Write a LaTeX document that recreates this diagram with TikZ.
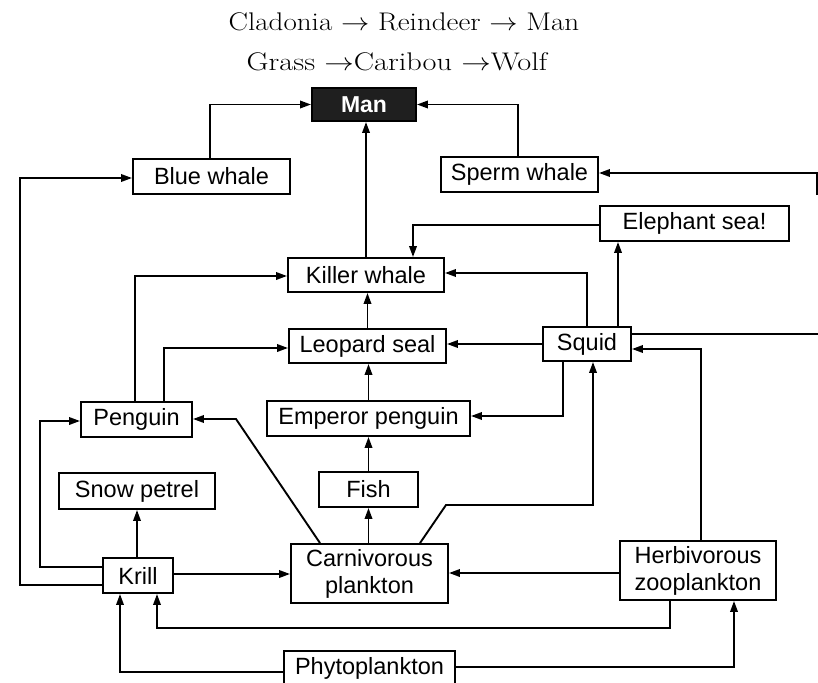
\documentclass[tikz,border=0pt]{standalone}
\usepackage{fontspec}
\newfontfamily\labfont{Liberation Sans}
\usetikzlibrary{arrows.meta,calc}
\tikzset{
  animbox/.style={draw, line width=1.9bp, inner sep=0pt, align=center,
    font=\labfont\fontsize{23.5bp}{27bp}\selectfont},
  arr/.style={line width=1.9bp, -{Triangle[length=11bp,width=7.5bp]}},
  plain/.style={line width=1.9bp},
  titletext/.style={inner sep=0pt, font=\fontsize{25.5bp}{30bp}\selectfont}
}
\begin{document}
\begin{tikzpicture}[x=1bp,y=-1bp]
\useasboundingbox[fill=white] (0,0) rectangle (818,683);

% titles
\node[titletext] (t1) at (404,22) {\scalebox{1.14}[1]{Cladonia $\rightarrow$ Reindeer $\rightarrow$ Man}};
\node[titletext] (t2) at (397,62) {\scalebox{1.19}[1]{Grass $\rightarrow$Caribou $\rightarrow$Wolf}};

% nodes
\node[animbox, fill=black!88, text=white, minimum width=104bp, minimum height=33bp,
      font=\labfont\bfseries\fontsize{23bp}{27bp}\selectfont] (man) at (364,104.5) {Man};
\node[animbox, minimum width=157bp, minimum height=35bp] (bw) at (211.5,176.5) {Blue whale};
\node[animbox, minimum width=157bp, minimum height=35bp] (sw) at (519.5,174.5) {Sperm whale};
\node[animbox, minimum width=189bp, minimum height=35bp] (es) at (694.5,223.5) {Elephant sea!};
\node[animbox, minimum width=156bp, minimum height=34bp] (kw) at (366,275) {Killer whale};
\node[animbox, minimum width=157bp, minimum height=34bp] (ls) at (367.5,346) {Leopard seal};
\node[animbox, minimum width=88bp, minimum height=34bp] (sq) at (587,344) {Squid};
\node[animbox, minimum width=111bp, minimum height=35bp] (pg) at (136.5,419.5) {Penguin};
\node[animbox, minimum width=203bp, minimum height=35bp] (ep) at (368.5,418.5) {Emperor penguin};
\node[animbox, minimum width=156bp, minimum height=36bp] (sp) at (137,491) {Snow petrel};
\node[animbox, minimum width=99bp, minimum height=35bp] (fi) at (368.5,489.5) {Fish};
\node[animbox, minimum width=70bp, minimum height=35bp] (kr) at (138,575.5) {Krill};
\node[animbox, minimum width=157bp, minimum height=59bp] (cp) at (369.5,573.5) {Carnivorous\\plankton};
\node[animbox, minimum width=156bp, minimum height=59bp] (hz) at (698,570.5) {Herbivorous\\zooplankton};
\node[animbox, minimum width=171bp, minimum height=34bp] (ph) at (369.5,668) {Phytoplankton};

% helper coordinates
\coordinate (re1) at (817,195);
\coordinate (re3) at (818,334);
\coordinate (c1) at (446,505);
\coordinate (c2) at (236,419);
\coordinate (c3) at (40,421);
\coordinate (c4) at (20,178);
\coordinate (c5) at (157,628);

% connectors to Man
\draw[arr] ([xshift=-1.5bp]bw.north) |- (man.west);
\draw[arr] ([xshift=-1.5bp]sw.north) |- (man.east);
\draw[arr] (kw.north) -- (kw.north |- man.south);
\draw[arr] (re1) |- ([yshift=1.5bp]sw.east);

% into Killer whale
\draw[arr] ([yshift=-1.5bp]es.west) -| ([xshift=47bp]kw.north);
\draw[arr] (sq.north) |- ([yshift=2bp]kw.east);
\draw[arr] (ls.north) -- (ls.north |- kw.south);
\draw[arr] ([xshift=-1.5bp]pg.north) |- ([yshift=-1bp]kw.west);

% Squid
\draw[arr] ([xshift=31bp]sq.north) -- ([xshift=31bp]sq.north |- es.south);
\draw[arr] (sq.west) -- (sq.west -| ls.east);
\draw[plain] ([yshift=10bp]sq.east) -- (re3);
\draw[arr] ([xshift=3bp]hz.north) |- ([yshift=-5bp]sq.east);
\draw[arr] ([xshift=-24bp]sq.south) |- ([yshift=2.5bp]ep.east);
\draw[arr] ([xshift=50.5bp]cp.north) -- (c1) -| ([xshift=6bp]sq.south);

% middle column
\draw[arr] (ep.north) -- (ep.north |- ls.south);
\draw[arr] (fi.north) -- (fi.north |- ep.south);
\draw[arr] ([xshift=-1bp]cp.north) -- ([xshift=-1bp]cp.north |- fi.south);

% Penguin
\draw[arr] ([xshift=27.5bp]pg.north) |- ([yshift=-2bp]ls.west);
\draw[arr] ([xshift=-49.5bp]cp.north) -- (c2) -- (c2 -| pg.east);

% Krill
\draw[arr] ([yshift=8.5bp]kr.west) -| (c3) -- (c3 -| pg.west);
\draw[arr] ([yshift=-9.5bp]kr.west) -| (c4) -- (c4 -| bw.west);
\draw[arr] ([xshift=-1bp]kr.north) -- ([xshift=-1bp]kr.north |- sp.south);
\draw[arr] ([yshift=1.5bp]kr.east) -- ([yshift=1.5bp]kr.east -| cp.west);

% Herbivorous
\draw[arr] ([yshift=-2.5bp]hz.west) -- ([yshift=-2.5bp]hz.west -| cp.east);
\draw[arr] ([xshift=-28bp]hz.south) |- (c5) -- (c5 |- kr.south);

% Phytoplankton
\draw[arr] ([yshift=-4bp]ph.west) -| ([xshift=-18bp]kr.south);
\draw[arr] ([yshift=1bp]ph.east) -| ([xshift=36bp]hz.south);
\end{tikzpicture}
\end{document}
